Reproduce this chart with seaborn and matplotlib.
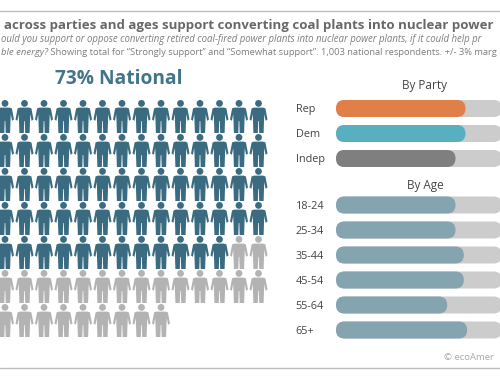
import matplotlib.pyplot as plt
import numpy as np
import pandas as pd
import seaborn as sns
from matplotlib.patches import FancyBboxPatch
from matplotlib.path import Path

# Values
dark_per_row = [14, 14, 14, 14, 12, 0, 0]
gray_per_row = [0, 0, 0, 0, 2, 14, 9]
party_labels = ["Rep", "Dem", "Indep"]
party_values = [78, 78, 72]
party_colors = ["#e07f48", "#58afc0", "#7f7f7f"]
age_labels = ["18-24", "25-34", "35-44", "45-54", "55-64", "65+"]
age_values = [72, 72, 77, 77, 67, 79]
full_value = 100

title = "across parties and ages support converting coal plants into nuclear power"
sub1 = "ould you support or oppose converting retired coal-fired power plants into nuclear power plants, if it could help pr"
sub2_a = "ble energy?"
sub2_b = " Showing total for “Strongly support” and “Somewhat support”. 1,003 national respondents. +/- 3% marg"

DARK, GRAY = "#3a6b80", "#b3b3b3"
W, H = 500, 380
PX_PER_UNIT = 1.66

sns.set_theme(style="white")
plt.rcParams["font.family"] = ["Open Sans", "DejaVu Sans"]

fig = plt.figure(figsize=(W / 100, H / 100), dpi=100)


def px_axes(left, top, width, height):
    return fig.add_axes([left / W, 1 - (top + height) / H, width / W, height / H])


# Background layer in pixel coordinates
bg = px_axes(0, 0, W, H)
bg.set(xlim=(0, W), ylim=(H, 0))
bg.axis("off")

bg.plot([0, W], [11, 11], color="#bdbdbd", lw=1)
bg.plot([0, W], [368, 368], color="#bdbdbd", lw=1)
bg.text(4, 26, title, fontsize=9.55, weight="bold", color="#686868", va="center")
bg.text(1, 39.5, sub1, fontsize=6.95, style="italic", color="#7d7d7d", va="center")
t = bg.text(1, 52.5, sub2_a, fontsize=6.8, style="italic", color="#7d7d7d", va="center")
fig.canvas.draw()
end = t.get_window_extent().x1
bg.text(end, 52.5, sub2_b, fontsize=6.72, color="#7d7d7d", va="center")
bg.text(119, 79, "73% National", fontsize=13.8, weight="bold", color="#42748a",
        ha="center", va="center")
bg.text(425, 86, "By Party", fontsize=8.5, color="#444444", ha="center", va="center")
bg.text(425, 186, "By Age", fontsize=8.5, color="#444444", ha="center", va="center")
bg.text(444, 357, "© ecoAmer", fontsize=6.8, color="#a8a8a8", va="center")

# Person marker, drawn in px around its centre (y up)
right = [(4.5, 7.6), (6.9, 8.4), (9, 19.5), (7.1, 20.8), (5.8, 14), (5.5, 21), (5.1, 33), (0.7, 33), (0.3, 21)]
left = [(-x, y) for x, y in reversed(right)]
body = Path([(x, 16.5 - y) for x, y in right + left + right[:1]], closed=True)
head = Path.circle((0, 13.1), 3.4)
person = Path.make_compound_path(head, body)

rows = []
for r, (n_dark, n_gray) in enumerate(zip(dark_per_row, gray_per_row)):
    for c in range(n_dark + n_gray):
        rows.append({"col": c, "row": r, "kind": "yes" if c < n_dark else "no"})
people = pd.DataFrame(rows)
people["x"] = 5 + people["col"] * 19.5
people["y"] = 116.5 + people["row"] * 34

sns.scatterplot(data=people, x="x", y="y", hue="kind", palette={"yes": DARK, "no": GRAY},
                marker=person, s=(33 * 0.72) ** 2, linewidth=0, legend=False, ax=bg)
bg.set(xlim=(0, W), ylim=(H, 0))


# Seaborn draws square bars, swap them for rounded ones
def round_bars(ax, row_px):
    aspect = PX_PER_UNIT / row_px
    radius = 8.5 / PX_PER_UNIT
    for bar in list(ax.patches):
        rounded = FancyBboxPatch(
            (bar.get_x(), bar.get_y()), bar.get_width(), bar.get_height(),
            boxstyle=f"round,pad=0,rounding_size={radius}", mutation_aspect=aspect,
            facecolor=bar.get_facecolor(), edgecolor="none", zorder=bar.get_zorder(),
        )
        bar.remove()
        ax.add_patch(rounded)


def bar_panel(top, labels, values, colors):
    height = 25 * len(labels)
    ax = px_axes(336, top, W - 336, height)
    ax.patch.set_alpha(0)
    sns.barplot(x=[full_value] * len(labels), y=labels, color="#cccccc", width=0.68,
                saturation=1, ax=ax, zorder=1)
    sns.barplot(x=values, y=labels, hue=labels, palette=colors, width=0.68,
                saturation=1, legend=False, ax=ax, zorder=2)
    round_bars(ax, 25)
    ax.set_xlim(0, (W - 336) / PX_PER_UNIT)
    ax.set(xlabel="", ylabel="", xticks=[])
    ax.tick_params(axis="y", length=0, pad=29)
    for lab in ax.get_yticklabels():
        lab.set_ha("left")
        lab.set_fontsize(7.8)
        lab.set_color("#444444")
    sns.despine(ax=ax, left=True, bottom=True)
    return ax


bar_panel(96, party_labels, party_values, party_colors)
bar_panel(192.5, age_labels, age_values, ["#84a4b0"] * len(age_labels))

fig.savefig("out.png", dpi=100)
